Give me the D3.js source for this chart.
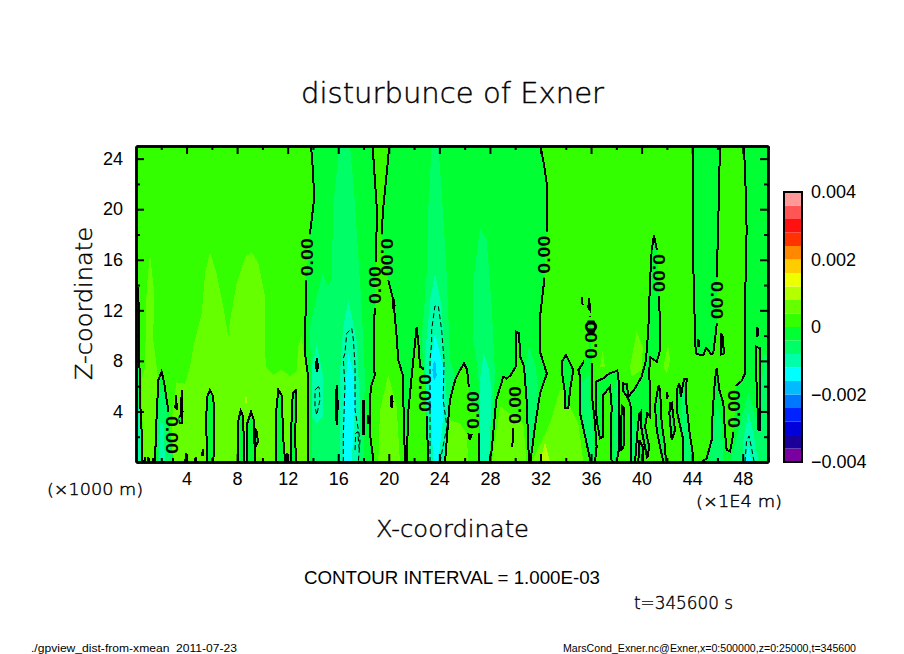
<!DOCTYPE html>
<html>
<head>
<meta charset="utf-8">
<title>disturbunce of Exner</title>
<script src="https://d3js.org/d3.v7.min.js"></script>
<style>
  html, body { margin: 0; padding: 0; background: #fff; }
  text { font-family: "Liberation Sans", sans-serif; fill: #000; white-space: pre; }
  text.big { font-family: "DejaVu Sans", sans-serif; font-weight: 200; stroke: #000; stroke-width: 0.4px; }
</style>
</head>
<body>
<svg id="chart" width="904" height="654"></svg>
<script>
// all outlines are [x (1E4 m), z (1000 m)]
const xMajor = [4, 8, 12, 16, 20, 24, 28, 32, 36, 40, 44, 48];
const xMinor = [2, 6, 10, 14, 18, 22, 26, 30, 34, 38, 42, 46, 50];
const zMajor = [4, 8, 12, 16, 20, 24];
const zMinor = [2, 6, 10, 14, 18, 22];

const bandColors = ['#7a00a0', '#1a0099', '#0000dd', '#0022ff', '#0077ff', '#00bbff', '#00ffff', '#00ffaa', '#00ff66', '#00ff33',
  '#33ff00', '#66ff00', '#b4ff00', '#eeff00', '#ffcc00', '#ff8800', '#ff3300', '#ff1111', '#ff5555', '#ff9999'];
const barTicks = [-0.004, -0.002, 0, 0.002, 0.004];
const barLabels = ['\u22120.004', '\u22120.002', '0', '0.002', '0.004'];

// lime shading under the zero areas
const limeLow = [
  [[1.1,16.5],[.84,13.6],[.71,7.54],[.45,6.5],[.58,0],[1.5,0],[1.77,6.5],[1.37,9.65],[1.42,13.6]],
  [[5.85,16.6],[5.46,14.9],[5.2,11.76],[4.54,9.12],[4.27,7.54],[3.88,6.2],[3.2,6.3],[2.9,4],[2.7,0],[13.5,0],[13.5,7],[13.1,9.9],[12.84,9.1],[12.7,7.2],[12.2,6.8],[11.5,7.3],[10.9,6.9],[10.34,7.4],[10.2,8.6],[10.2,13.1],[9.68,15.7],[9.15,16.6],[8.62,16.2],[7.96,14.1],[7.44,11.2],[7.3,9.9],[6.9,12.3],[6.38,14.9]],
  [[33.54,5.7],[32.75,3.06],[31.3,0],[35.39,0],[34.99,3.06],[34.34,4.38],[33.95,5.7]],
  [[36.92,8.86],[36.71,7.54],[37.1,7.54]],
  [[39.6,10.3],[39.08,7.54],[39.21,6.75],[40,7.28],[40.1,9.12]],
  [[42.1,9.26],[41.72,7.54],[42,7],[42.25,8.07]]
];
const limeHigh = [
  [[19.96,6.88],[19.3,4.1],[19.17,0],[20.88,0],[20.62,4.38]],
  [[24.84,3.3],[24.45,0],[26.29,0],[26.16,2.27],[25.63,3.06]],
  [[28.8,4.4],[28.14,0],[30.9,0],[30.64,3.06]]
];
const yellowGreen = [
  [[32.36,1.6],[31.96,0],[32.75,0]],
  [[8.7,5.56],[8.62,4.64],[8.8,4.64]]
];

// zero contour, negative side
const negativeAreas = [
  [[0,16.4],[.05,16.4],[.1,14.1],[.26,11.8],[.26,9.65],[.2,8.3],[.32,7],[.32,4.9],[.45,2.3],[.47,0],[0,0]],
  [[1.5,0],[1.63,3.6],[1.77,6.5],[2.03,7.15],[2.24,6.2],[2.43,4.9],[2.56,4.1],[2.9,.7],[2.9,0]],
  [[3.15,5.3],[3.25,4.2],[3.12,4.3]],
  [[3.62,5.7],[3.55,3.7],[3.3,3.45],[3.45,3.05],[3.62,3.05],[3.68,4]],
  [[5.64,0],[5.54,3.3],[5.64,5.17],[5.85,5.7],[6.12,5.17],[6.2,2.5],[6.12,0]],
  [[8.1,0],[8.1,3.3],[8.28,4.06],[8.49,3.6],[8.54,0]],
  [[8.8,0],[8.8,3.06],[9.1,3.97],[9.33,3.3],[9.41,0]],
  [[9.42,2.6],[9.55,2.4],[9.65,1.6],[9.5,1.3],[9.42,1.5]],
  [[11.05,0],[11.05,3.6],[11.26,5.7],[11.52,5.3],[11.66,1.74],[11.8,0]],
  [[12.3,0],[12.3,3.06],[12.4,5.43],[12.63,5.64],[12.65,3.85],[12.57,1.74],[12.7,0]],
  // the wide belt from 13.5 to 32
  [[13.85,25],[14.03,22.6],[14.08,20.7],[13.77,18.1],[13.45,14.3],[13.37,8.6],[13.58,7],[13.63,4.4],[13.63,0],[31.2,0],[31.6,3.06],[31.96,5.4],[32.5,7],[32,8.6],[32,11.8],[32.3,14.4],[32.5,18.4],[32.5,22],[32.3,23.4],[32,25]],
  [[33.68,7.94],[34.02,8.47],[34.6,7.28],[34.34,5.7],[34.2,4.25],[33.94,4.25],[33.94,5.43],[33.68,7.28]],
  [[35.97,0],[35.65,1.48],[35.13,3.85],[35.13,6.75],[35,7.28],[35.52,8.07],[35.82,8.4],[35.85,10.84],[35.92,11.55],[36,10.97],[36.05,7.8],[36.05,5.43],[36.31,3.06],[36.44,1.21],[36.31,0]],
  [[36.39,6.36],[36.97,6.62],[37.45,7.01],[38.08,7.23],[38.24,5.96],[38.24,1.21],[38.03,0],[37.63,0],[37.55,1.21],[37.63,4.38],[37.5,5.96],[36.97,5.3],[36.97,2],[36.71,1.87],[36.44,3.32],[36.39,5.43]],
  [[38.37,3.32],[38.47,4.38],[38.6,4.25],[38.63,2],[38.55,1.08],[38.34,.95]],
  [[40.98,17.96],[40.8,16.77],[40.67,14.4],[40.53,10.44],[40.35,8.07],[40,6.75],[39.48,5.83],[38.95,5.17],[38.82,6.17],[38.56,6.22],[38.5,5.7],[39,4.9],[39.14,4.38],[39.2,2.27],[39.13,0],[39.48,0],[39.66,2.27],[39.82,3.85],[39.93,3.97],[40,2.53],[40.45,.29],[40.6,1.21],[40.27,2.8],[40.45,3.85],[40.66,3.59],[40.7,5.17],[40.6,7],[40.67,8.28],[41.2,7.94],[41.47,8.86],[41.4,13.08],[41.2,16.8]],
  [[39.74,0],[39.82,1.74],[40.08,1.21],[40.13,0]],
  [[41.36,6.09],[41.27,5.7],[41.06,4.38],[41.2,2.53],[41.46,1.21],[41.72,0],[41.93,0],[41.85,1.21],[41.59,3.06],[41.46,5.7]],
  [[42,5.5],[42.08,5.2],[42,5]],
  [[42.25,4.64],[42.38,4.7],[42.64,2.53],[42.38,1.74],[42.2,3.85]],
  [[42.83,4.51],[42.78,5.7],[42.99,6.22],[43.1,5.17],[43.35,6.54],[43.56,6.54],[43.51,4.9],[43.77,2.53],[44.04,.69],[44.1,0],[43.25,0],[43.3,1.74],[42.83,3.85]],
  [[44.1,25],[44.04,17.6],[44.17,12.3],[44.28,8.6],[44.55,8.5],[44.88,8.47],[45.1,9],[45.28,8.86],[45.5,8.5],[45.67,8.6],[45.94,10.84],[45.94,14.4],[46.07,19.15],[46.2,25]],
  [[46.3,10.2],[46.45,9.8],[46.5,8.6],[46.28,8.5]],
  // right-hand region, from the top down to the floor
  [[48.05,25],[48.18,23.4],[48.31,18.4],[48.18,12.3],[48.18,7],[47.9,6.4],[47.5,6.04],[47.26,2.27],[47,.82],[46.73,.95],[46.6,2.27],[46.47,4.64],[46.15,5.7],[45.94,7.41],[45.8,6.49],[45.62,3.85],[45.54,1.74],[45.15,.29],[44.75,0],[50,0],[50,25]],
  // small bits along the floor
  [[.65,0],[.7,.4],[.75,0]],
  [[.93,0],[.98,.35],[1.03,0]],
  [[1.32,0],[1.37,.3],[1.42,0]],
  [[3.9,0],[3.96,.7],[4.02,0]],
  [[4.66,0],[4.72,.35],[4.78,0]],
  [[5.25,.55],[5.27,1],[5.3,.55]],
  [[11.85,0],[11.92,.7],[12,0]],
  [[35.28,13.08],[35.32,12.55],[35.25,12.6]],
  [[35.85,12.95],[35.92,12],[35.78,12.2]],
  [[44.5,9.7],[44.55,9.2],[44.45,9.2]]
];

// zero contour, positive islands inside the negative regions
const positiveAreas = [
  [[18.72,25],[18.9,22.3],[19.1,19.4],[19,17.7],[18.9,12.3],[18.8,10.2],[18.8,7.5],[18.9,6.9],[18.6,6],[18.5,4.9],[18.5,2.3],[18.8,0],[21.28,0],[21.15,4.9],[21.15,6.75],[20.75,8.07],[20.6,10.2],[20.36,12.8],[19.96,14.4],[19.43,18.1],[19.57,20.2],[19.83,22.8],[20.04,25]],
  [[21.41,0],[21.55,4.11],[21.94,8.07],[22.07,9.39],[22.2,10.7],[22.34,9.39],[22.47,7.54],[22.73,7.41],[22.86,5.96],[23,3.32],[23.13,0]],
  [[24.45,0],[24.7,3.3],[24.84,4.9],[25.25,6.5],[25.6,7.2],[25.95,7.8],[26.2,7.28],[26.4,5.17],[27.1,3.6],[27.15,2.27],[27.15,0]],
  [[27.95,0],[28.14,.95],[28.5,4.9],[29.06,6.75],[29.33,6.6],[29.64,6.88],[30.04,7.54],[30.1,10.3],[30.3,10.18],[30.4,8.33],[30.7,7.54],[30.9,4.9],[31.09,0]],
  [[14.3,8.2],[14.4,7.6],[14.32,7.15],[14.24,7.6]],
  [[15.88,6.1],[15.96,4.5],[15.88,2.9],[15.8,4.5]],
  [[18,4.9],[18.06,3.5],[18,2.1],[17.94,3.5]],
  [[18.38,3.7],[18.44,3.3],[18.38,3],[18.32,3.3]],
  [[20.23,5.3],[20.3,4.8],[20.23,4.25],[20.16,4.8]],
  [[20.36,13],[20.46,12.4],[20.42,11.9],[20.32,12.4]],
  [[49.05,9.12],[49.4,9],[49.4,2.53],[49.25,2.53],[49.1,5.8]],
  [[49.16,10.7],[49.22,10.3],[49.16,9.9],[49.1,10.3]],
  [[47.07,4.6],[47.13,4.1],[47.07,3.6],[47.01,4.1]]
];

// shaded bands below zero
const bandMinus2 = [
  [[16.09,25],[16.93,25],[17.25,21.5],[17.59,16.2],[17.85,12.3],[18.1,7],[18,0],[13.9,0],[13.9,7],[13.77,9.65],[13.77,10.7],[14.3,13.1],[14.77,14.9],[15.2,13.9],[15.48,14.4],[15.6,20.2]],
  [[23.39,25],[23.92,25],[24.18,21.5],[24.58,14.9],[24.84,8.07],[25.25,6.75],[24.8,4.9],[24.7,3.3],[24.45,0],[23.2,0],[23.1,3.3],[22.85,6],[22.75,7.6],[22.6,9.5],[23,14.9],[23.13,20.2]],
  [[27.2,18.5],[26.69,14.4],[26.69,9.65],[27.08,7],[27.2,3.6],[27.2,0],[27.95,0],[28.27,4.4],[28.4,7],[28.14,12.3],[27.74,17.6]],
  [[31.1,9.2],[30.77,7.54],[30.9,4.9],[31.1,0],[31.3,0],[31.6,2.8],[31.85,5.43],[31.6,7.54]],
  [[39.1,4.4],[39.15,0],[39.5,0],[39.6,2.5]],
  [[37.7,5.5],[38.1,6.5],[38.2,3],[38.1,0],[37.7,0]],
  [[35.3,6.3],[35.9,7],[35.95,4.5],[36.2,2],[36.25,0],[36,0],[35.6,2],[35.3,4]],
  [[43.2,6],[43.5,5],[43.8,2],[44,0],[43.4,0],[43.2,3]],
  [[45.95,4.4],[45.3,0],[46.5,0],[46.33,3.06]],
  [[48.44,5.43],[47.79,3.06],[47,0],[50,0],[50,8.5],[49.6,8.5],[49.5,3.5],[49.24,3.06]],
  [[0,8.3],[.25,8],[.3,4.4],[.4,0],[0,0]],
  [[1.63,0],[1.77,4.4],[2.03,6.2],[2.43,4.4],[2.56,1.74],[2.95,0]]
];
const bandMinus3 = [
  [[16.8,12.8],[16.4,10.7],[16.14,7],[16.14,0],[17.6,0],[17.72,4.4],[17.46,9.65]],
  [[14.3,9.26],[13.9,7.54],[13.9,3.6],[14.3,3.06],[14.82,3.6],[14.77,7]],
  [[23.65,14.9],[23.26,12.8],[22.86,8.33],[23,3.6],[23.2,0],[24.45,0],[24.7,3.3],[24.45,7],[24.18,12.3]],
  [[27.5,8.6],[27.2,6.5],[27.2,0],[27.95,0],[28.14,5.7],[27.87,7.54]],
  [[48.44,3.85],[48.05,1.74],[48.05,0],[49.24,0],[48.84,2.27]],
  [[0,4.4],[.35,4.2],[.42,0],[0,0]],
  [[1.77,0],[1.9,3.06],[2.16,3.06],[2.3,0]]
];
const bandMinus4 = [
  [[16.8,8.6],[16.4,4.4],[16.4,0],[17.06,0],[17.33,4.4],[17.2,7]],
  [[23.65,10.2],[23.26,7.54],[23.26,4.9],[23.39,2.8],[23.52,0],[23.92,0],[24.31,3.6],[24.31,7.54]],
  [[48.44,1.2],[48.18,0],[48.7,0]]
];
const bandMinus5 = [
  [[23.58,8.07],[23.44,7.28],[23.58,6.36],[23.79,6.88],[23.7,7.8]]
];

// -0.001 contour, dashed
const dashedLines = [
  [[16.4,0],[16.4,2],[16.53,6],[16.4,8.2],[16.53,8.6],[16.67,10.18],[17.07,10.57],[17.2,9.65],[17.33,7.54],[17.33,4.11],[17.72,1.74],[17.59,0]],
  [[14.43,5.96],[14.16,5.7],[14.16,4.38],[14.3,3.72],[14.55,4.9],[14.5,5.83],[14.43,5.96]],
  [[17.33,.95],[17.38,2.27],[17.54,2.4],[17.65,1.08]],
  [[23.26,0],[23.26,8.07],[23.39,9.39],[23.39,10.44],[23.65,12.34],[23.92,12.34],[24.18,10.44],[24.37,8.07],[24.3,4.9],[24.6,2.8],[24.05,0]],
  [[48.18,0],[48.3,1.6],[48.5,2.06],[48.7,1.1],[48.9,0]]
];
// stretches of the zero contour that close on nothing
const openLines = [
  [[29.85,5.96],[29.85,2.53],[29.77,1.2]],
  [[26.55,2.93],[26.3,2.27],[26.4,1.74],[26.55,2.2]]
];
// line overrun on top of the label near x=36
const labelOverrun = [
  [[35.6,10.7],[35.8,11.1],[36.2,11.1],[36.35,10.7],[36.2,10.3],[35.8,10.3],[35.6,10.7]]
];

const contourLabels = [
  { x: 2.82, z: 2.14, turn: 90 },
  { x: 13.53, z: 16.2, turn: -90 },
  { x: 18.9, z: 14.0, turn: -90 },
  { x: 19.83, z: 16.2, turn: 90 },
  { x: 22.9, z: 5.46, turn: 90 },
  { x: 26.66, z: 4.11, turn: -90 },
  { x: 30.0, z: 4.5, turn: -90 },
  { x: 32.3, z: 16.4, turn: -90 },
  { x: 36.0, z: 9.65, turn: -90 },
  { x: 41.4, z: 14.95, turn: 90 },
  { x: 46.0, z: 12.8, turn: 90 },
  { x: 47.3, z: 4.2, turn: -90 }
];

const svg = d3.select('#chart');
const plot = { left: 136, right: 768, top: 146, bottom: 462 };

const x = d3.scaleLinear().domain([0, 50]).range([plot.left, plot.right]);
const z = d3.scaleLinear().domain([0, 25]).range([plot.bottom, plot.top]);
const outline = d3.line().x((d) => x(d[0])).y((d) => z(d[1]));

const defs = svg.append('defs');
defs.append('clipPath').attr('id', 'plotClip').append('rect')
  .attr('x', plot.left).attr('y', plot.top)
  .attr('width', plot.right - plot.left).attr('height', plot.bottom - plot.top);

// contour lines stop short of their labels
const gapMask = defs.append('mask').attr('id', 'labelGaps')
  .attr('maskUnits', 'userSpaceOnUse')
  .attr('x', 0).attr('y', 0).attr('width', 904).attr('height', 654);
gapMask.append('rect').attr('width', 904).attr('height', 654).attr('fill', '#fff');
gapMask.selectAll('rect.gap').data(contourLabels).join('rect')
  .attr('class', 'gap')
  .attr('x', (d) => x(d.x) - 7).attr('y', (d) => z(d.z) - 23)
  .attr('width', 14).attr('height', 46)
  .attr('fill', '#000');

const field = svg.append('g').attr('clip-path', 'url(#plotClip)');
field.append('rect')
  .attr('x', plot.left).attr('y', plot.top)
  .attr('width', plot.right - plot.left).attr('height', plot.bottom - plot.top)
  .attr('fill', bandColors[10]);

function fillAreas(areas, color) {
  field.append('g').selectAll('path').data(areas).join('path')
    .attr('d', (d) => outline(d) + 'Z')
    .attr('fill', color)
    .attr('shape-rendering', 'crispEdges');
}

fillAreas(limeLow, bandColors[11]);
fillAreas(negativeAreas, bandColors[9]);
fillAreas(positiveAreas, bandColors[10]);
fillAreas(limeHigh, bandColors[11]);
fillAreas(yellowGreen, bandColors[12]);
fillAreas(bandMinus2, bandColors[8]);
fillAreas(bandMinus3, bandColors[7]);
fillAreas(bandMinus4, bandColors[6]);
fillAreas(bandMinus5, bandColors[5]);

// contour lines
const lines = field.append('g').attr('mask', 'url(#labelGaps)')
  .attr('fill', 'none').attr('stroke', '#000').attr('shape-rendering', 'crispEdges');
lines.append('g').attr('stroke-width', 2).selectAll('path')
  .data(negativeAreas.concat(positiveAreas)).join('path')
  .attr('d', (d) => outline(d) + 'Z');
lines.append('g').attr('stroke-width', 2).selectAll('path')
  .data(openLines).join('path')
  .attr('d', outline);
field.append('g').attr('fill', 'none').attr('stroke', '#000').attr('stroke-width', 2.4)
  .selectAll('path').data(labelOverrun).join('path')
  .attr('d', outline);
field.append('g').attr('fill', 'none').attr('stroke', '#000')
  .attr('stroke-width', 1).attr('stroke-dasharray', '5 3')
  .selectAll('path').data(dashedLines).join('path')
  .attr('d', outline);

// contour labels
svg.append('g').selectAll('text').data(contourLabels).join('text')
  .attr('transform', (d) => `translate(${x(d.x)},${z(d.z)}) rotate(${d.turn})`)
  .attr('text-anchor', 'middle')
  .attr('dy', '0.36em')
  .attr('font-size', 17)
  .attr('font-weight', 'bold')
  .attr('textLength', 38)
  .attr('lengthAdjust', 'spacingAndGlyphs')
  .text('0.00');

// frame and ticks, inward on all four sides
function drawAxis(axis, translate, major, minor, labels) {
  const minorG = svg.append('g').attr('transform', translate);
  minorG.call(axis.tickValues(minor).tickSize(-4).tickSizeOuter(0).tickFormat(''));
  const majorG = svg.append('g').attr('transform', translate);
  majorG.call(axis.tickValues(major).tickSize(-8).tickSizeOuter(0).tickPadding(labels ? labels : 3)
    .tickFormat(labels ? d3.format('d') : ''));
  [minorG, majorG].forEach((g) => {
    g.selectAll('.domain').attr('stroke-width', 2.4);
    g.selectAll('.tick line').attr('stroke-width', 2);
    g.selectAll('text').attr('font-size', 18).attr('font-family', null);
    g.attr('font-family', null);
  });
}
drawAxis(d3.axisBottom(x), `translate(0,${plot.bottom})`, xMajor, xMinor, 10);
drawAxis(d3.axisTop(x), `translate(0,${plot.top})`, xMajor, xMinor, 0);
drawAxis(d3.axisLeft(z), `translate(${plot.left},0)`, zMajor, zMinor, 13);
drawAxis(d3.axisRight(z), `translate(${plot.right},0)`, zMajor, zMinor, 0);

// colour bar
const bar = { left: 784, right: 802, top: 192, bottom: 462 };
const barScale = d3.scaleLinear().domain([-0.004, 0.004]).range([bar.bottom, bar.top]);
const barStep = 0.008 / bandColors.length;
svg.append('g').selectAll('rect').data(bandColors).join('rect')
  .attr('x', bar.left)
  .attr('y', (d, i) => barScale(-0.004 + (i + 1) * barStep))
  .attr('width', bar.right - bar.left)
  .attr('height', (d, i) => barScale(-0.004 + i * barStep) - barScale(-0.004 + (i + 1) * barStep))
  .attr('fill', (d) => d);
svg.append('rect')
  .attr('x', bar.left).attr('y', bar.top)
  .attr('width', bar.right - bar.left).attr('height', bar.bottom - bar.top)
  .attr('fill', 'none').attr('stroke', '#000').attr('stroke-width', 2);
svg.append('g').selectAll('text').data(barTicks).join('text')
  .attr('x', bar.right + 9)
  .attr('y', (d) => barScale(d))
  .attr('dy', '0.36em')
  .attr('font-size', 18)
  .text((d, i) => barLabels[i]);

// titles and notes
function note(label, px, py, size, width, turn, cls) {
  const t = svg.append('text')
    .attr('font-size', size)
    .attr('textLength', width)
    .attr('lengthAdjust', 'spacingAndGlyphs')
    .text(label);
  if (cls) t.attr('class', cls);
  if (turn) t.attr('transform', `translate(${px},${py}) rotate(${turn})`);
  else t.attr('x', px).attr('y', py);
  return t;
}
note('disturbunce of Exner', 301, 103, 28, 303, 0, 'big');
note('Z-coordinate', 92, 380, 23, 153, -90, 'big');
note('X-coordinate', 376, 537, 23, 153, 0, 'big');
note('(\u00d71000 m)', 47, 495, 16, 96, 0, 'big');
note('(\u00d71E4 m)', 696, 507, 16, 86, 0, 'big');
note('CONTOUR INTERVAL = 1.000E-03', 304, 584, 18, 296);
note('t=345600 s', 634, 609, 17, 99, 0, 'big');
note('./gpview_dist-from-xmean  2011-07-23', 31, 652, 10, 206);
note('MarsCond_Exner.nc@Exner,x=0:500000,z=0:25000,t=345600', 563, 652, 10, 293);
</script>
</body>
</html>
